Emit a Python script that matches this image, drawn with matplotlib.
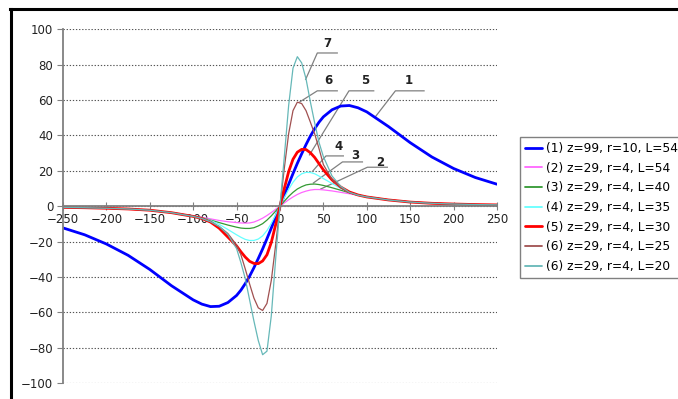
import matplotlib
matplotlib.use("Agg")
import matplotlib.pyplot as plt
from matplotlib.lines import Line2D

# shared x positions of the read-off points
x = [-250, -225, -200, -175, -150, -125, -100, -90, -80, -70, -60, -50, -45, -40, -35, -30, -25, -20, -15, -10, -5, 0,
     5, 10, 15, 20, 25, 30, 35, 40, 45, 50, 60, 70, 80, 90, 100, 125, 150, 175, 200, 225, 250]

curve1 = [-12.3, -16.2, -21.4, -27.8, -35.8, -45.0, -53.0, -55.4, -56.8, -56.6, -54.5, -50.5, -47.5, -43.8, -39.6, -34.8, -29.6, -24.2, -18.4, -12.4, -6.2, 0,
          6.2, 12.4, 18.4, 24.2, 29.6, 34.8, 39.6, 43.8, 47.5, 50.5, 54.5, 56.6, 56.9, 55.6, 53.3, 45.0, 35.9, 27.8, 21.3, 16.2, 12.4]
curve2 = [-0.7, -0.9, -1.2, -1.7, -2.3, -3.7, -5.5, -6.3, -7.2, -8.1, -8.8, -9.3, -9.5, -9.6, -9.5, -9.0, -8.0, -6.8, -5.3, -3.6, -1.8, 0,
          1.8, 3.6, 5.2, 6.6, 7.7, 8.5, 9.1, 9.4, 9.4, 9.2, 8.6, 7.8, 7.0, 6.1, 5.3, 3.6, 2.4, 1.7, 1.2, 0.9, 0.7]
curve3 = [-0.7, -0.9, -1.2, -1.7, -2.3, -3.7, -5.6, -6.6, -7.9, -9.3, -10.7, -11.9, -12.4, -12.6, -12.6, -12.2, -11.2, -9.9, -7.9, -5.5, -2.8, 0,
          2.8, 5.5, 7.8, 9.7, 11.0, 12.0, 12.4, 12.5, 12.2, 11.7, 10.4, 9.0, 7.6, 6.3, 5.3, 3.6, 2.4, 1.7, 1.2, 0.9, 0.7]
curve4 = [-0.7, -0.9, -1.2, -1.6, -2.3, -3.6, -5.6, -6.6, -8.1, -10.3, -13.2, -16.2, -17.6, -18.8, -19.4, -19.4, -18.6, -16.8, -13.8, -9.7, -4.9, 0,
          4.8, 9.5, 13.5, 16.5, 18.3, 19.1, 19.0, 18.3, 17.0, 15.6, 12.8, 10.0, 7.8, 6.2, 5.2, 3.5, 2.3, 1.6, 1.2, 0.9, 0.7]
curve5 = [-0.7, -0.9, -1.2, -1.6, -2.3, -3.7, -5.8, -7.0, -9.0, -12.5, -17.5, -22.5, -25.8, -28.8, -31.2, -32.4, -32.5, -31.0, -27.5, -20.5, -10.5, 0,
          10.0, 19.5, 26.5, 30.5, 32.1, 32.0, 30.2, 27.5, 24.0, 20.5, 14.8, 10.8, 8.0, 6.3, 5.2, 3.5, 2.3, 1.6, 1.2, 0.9, 0.7]
curve6 = [-0.7, -0.9, -1.2, -1.6, -2.3, -3.7, -5.8, -7.0, -8.8, -11.5, -15.5, -22.0, -27.5, -35.5, -44.0, -52.0, -57.5, -59.0, -55.0, -42.0, -22.0, 0,
          21.5, 41.0, 54.0, 58.8, 58.0, 54.0, 47.5, 40.8, 32.5, 23.5, 15.0, 10.6, 7.6, 6.2, 5.2, 3.5, 2.3, 1.6, 1.2, 0.9, 0.7]
curve7 = [-0.7, -0.9, -1.2, -1.6, -2.3, -3.7, -5.8, -7.0, -8.8, -11.5, -16.0, -24.0, -32.0, -41.0, -53.0, -65.0, -76.0, -84.0, -82.0, -62.0, -30.0, 0,
          28.0, 57.0, 78.0, 84.5, 81.0, 72.0, 59.0, 47.0, 36.0, 28.0, 17.0, 11.2, 7.8, 6.2, 5.2, 3.5, 2.3, 1.6, 1.2, 0.9, 0.7]

labels = ["(1) z=99, r=10, L=54", "(2) z=29, r=4, L=54", "(3) z=29, r=4, L=40",
          "(4) z=29, r=4, L=35", "(5) z=29, r=4, L=30", "(6) z=29, r=4, L=25",
          "(6) z=29, r=4, L=20"]
series = [curve1, curve2, curve3, curve4, curve5, curve6, curve7]
colors = ["#0000FF", "#FF66FF", "#339933", "#66FFFF", "#FF0000", "#A05050", "#66B8B8"]
widths = [2.0, 0.9, 0.9, 0.9, 2.0, 0.9, 0.9]

# numbered callouts: label text, text position, leader line (end on curve, elbow, far end)
callouts = [
    ("7", (55, 92), (29.6, 71.7), (43, 86.6), (66, 86.6)),
    ("6", (56, 71.3), (23, 59), (43, 65.2), (66, 65.2)),
    ("5", (98, 71.3), (34, 29), (79.5, 65.2), (108, 65.2)),
    ("1", (148, 71.3), (110, 50.6), (133, 65.2), (166, 65.2)),
    ("4", (68, 33.7), (37.3, 19.6), (53, 28.4), (73, 28.4)),
    ("3", (87, 28.5), (38.5, 13.1), (72, 25), (95, 25)),
    ("2", (116, 24.7), (47, 9.7), (100.7, 22), (123.7, 22)),
]

plt.rcParams['font.family'] = ['DejaVu Sans']

fig = plt.figure(figsize=(6.78, 3.99), dpi=100)
ax = fig.add_axes([0.0929, 0.0401, 0.6401, 0.8865])

for ys, lab, col, lw in zip(series, labels, colors, widths):
    ax.plot(x, ys, color=col, lw=lw, label=lab, solid_capstyle='round')

for txt, tpos, p_end, p_elbow, p_far in callouts:
    ax.plot([p_end[0], p_elbow[0], p_far[0]], [p_end[1], p_elbow[1], p_far[1]],
            color="#808080", lw=0.9, zorder=1)
    ax.text(tpos[0], tpos[1], txt, ha='center', va='center', fontsize=8.5,
            fontweight='bold', color='#222222')

ax.set_xlim(-250, 250)
ax.set_ylim(-100, 100)
ax.set_xticks(range(-250, 251, 50))
ax.set_yticks(range(-100, 101, 20))

ax.yaxis.grid(True, color='#555555', linestyle=(0, (1.2, 1.6)), lw=0.8)
ax.set_axisbelow(True)

for side in ['top', 'right']:
    ax.spines[side].set_visible(False)
ax.spines['bottom'].set_position(('data', 0))
ax.spines['bottom'].set_color('#808080')
ax.spines['left'].set_color('#808080')
ax.spines['bottom'].set_linewidth(1.3)
ax.spines['left'].set_linewidth(1.3)

ax.tick_params(axis='x', direction='inout', length=6, color='#808080', labelsize=8.5, pad=2, labelcolor='#222222')
ax.tick_params(axis='y', direction='out', length=4, color='#808080', labelsize=8.5, pad=3, labelcolor='#222222')

leg = ax.legend(loc='upper left', bbox_to_anchor=(520 / 678, 1 - 137 / 399), bbox_transform=fig.transFigure,
                borderaxespad=0, frameon=True, fancybox=False, framealpha=1, fontsize=8.8,
                handlelength=1.4, handletextpad=0.35, borderpad=0.4, labelspacing=0.55)
leg.get_frame().set_edgecolor('#808080')
leg.get_frame().set_linewidth(1.0)
for h in leg.get_lines():
    h.set_linewidth(max(h.get_linewidth(), 1.3))

# outer black frame (top and left edges only are visible in the picture)
fig.add_artist(Line2D([10 / 678, 1], [1 - 8.7 / 399] * 2, color='black', lw=2.2, transform=fig.transFigure))
fig.add_artist(Line2D([11.3 / 678] * 2, [0, 1 - 8.7 / 399], color='black', lw=2.2, transform=fig.transFigure))

fig.savefig("out.png", dpi=100)
